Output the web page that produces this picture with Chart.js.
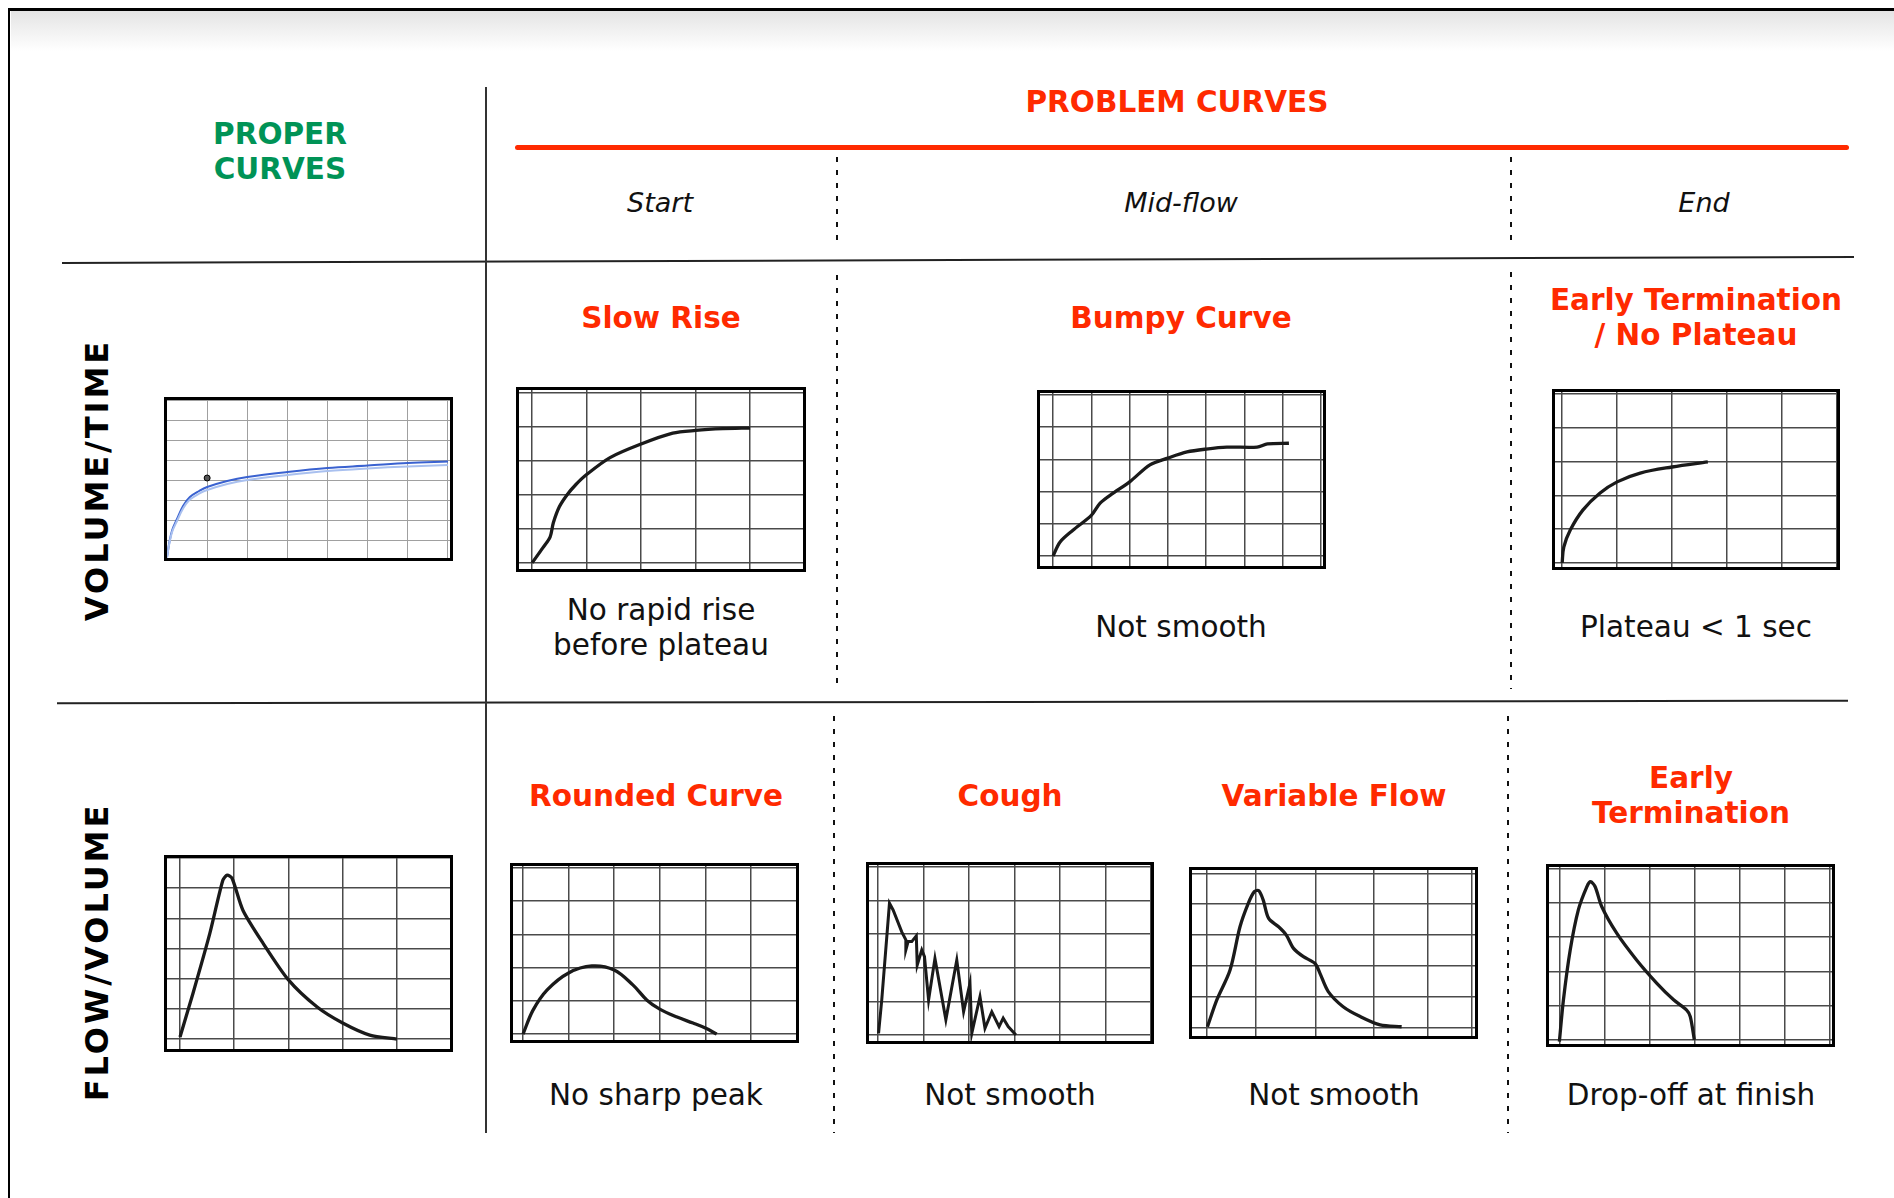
<!DOCTYPE html>
<html>
<head>
<meta charset="utf-8">
<script src="https://cdn.jsdelivr.net/npm/chart.js@4.4.1/dist/chart.umd.min.js"></script>
<style>
body { margin: 0; background: #fff; font-family: "DejaVu Sans", Verdana, sans-serif; }
#page { position: relative; width: 1894px; height: 1198px; overflow: hidden; background: #fff; }
.abs { position: absolute; }
.txt { position: absolute; transform: translate(-50%, -50%); white-space: nowrap; line-height: 1; text-align: center; }
.head { font-weight: bold; font-size: 29.5px; }
.red { color: #ff2a00; }
.green { color: #009356; }
.col { font-style: italic; font-size: 27px; color: #111; }
.cap { font-size: 29.5px; color: #111; }
.side { font-weight: bold; font-size: 32px; letter-spacing: 3px; color: #000; transform: translate(-50%, -50%) rotate(-90deg); }
.box { position: absolute; border: 3px solid #000; box-sizing: border-box; background: #fff; }
.box canvas { display: block; }
.dash { position: absolute; width: 2px; background: repeating-linear-gradient(to bottom, #111 0 5px, transparent 5px 13px); }
</style>
</head>
<body>
<div id="page">
  <!-- frame -->
  <div class="abs" style="left:9px;top:8px;width:1885px;height:3px;background:#000"></div>
  <div class="abs" style="left:11px;top:11px;width:1883px;height:40px;background:linear-gradient(#e4e4e4,#fff)"></div>
  <div class="abs" style="left:8px;top:8px;width:2px;height:1190px;background:#000"></div>

  <!-- table lines -->
  <div class="abs" style="left:515px;top:145px;width:1334px;height:5px;background:#ff2a00;border-radius:3px"></div>
  <div class="abs" style="left:62px;top:259px;width:1792px;height:2px;background:#222;transform:rotate(-0.19deg)"></div>
  <div class="abs" style="left:57px;top:701px;width:1791px;height:2px;background:#222;transform:rotate(-0.08deg)"></div>
  <div class="abs" style="left:485px;top:87px;width:1.5px;height:1046px;background:#333"></div>

  <div class="dash" style="left:836px;top:157px;height:91px"></div>
  <div class="dash" style="left:836px;top:275px;height:414px"></div>
  <div class="dash" style="left:833px;top:716px;height:417px"></div>
  <div class="dash" style="left:1510px;top:157px;height:91px"></div>
  <div class="dash" style="left:1510px;top:272px;height:417px"></div>
  <div class="dash" style="left:1507px;top:716px;height:417px"></div>

  <!-- headings -->
  <div class="txt head green" style="left:280px;top:135px">PROPER</div>
  <div class="txt head green" style="left:280px;top:170px">CURVES</div>
  <div class="txt head red" style="left:1177px;top:103px">PROBLEM CURVES</div>
  <div class="txt col" style="left:660px;top:202px">Start</div>
  <div class="txt col" style="left:1181px;top:202px">Mid-flow</div>
  <div class="txt col" style="left:1704px;top:202px">End</div>
  <div class="txt side" style="left:97px;top:480px">VOLUME/TIME</div>
  <div class="txt side" style="left:97px;top:952px">FLOW/VOLUME</div>

  <!-- titles -->
  <div class="txt head red" style="left:661px;top:319px">Slow Rise</div>
  <div class="txt head red" style="left:1181px;top:319px">Bumpy Curve</div>
  <div class="txt head red" style="left:1696px;top:301px">Early Termination</div>
  <div class="txt head red" style="left:1696px;top:336px">/ No Plateau</div>
  <div class="txt head red" style="left:656px;top:797px">Rounded Curve</div>
  <div class="txt head red" style="left:1010px;top:797px">Cough</div>
  <div class="txt head red" style="left:1334px;top:797px">Variable Flow</div>
  <div class="txt head red" style="left:1691px;top:779px">Early</div>
  <div class="txt head red" style="left:1691px;top:814px">Termination</div>

  <!-- captions -->
  <div class="txt cap" style="left:661px;top:611px">No rapid rise</div>
  <div class="txt cap" style="left:661px;top:646px">before plateau</div>
  <div class="txt cap" style="left:1181px;top:628px">Not smooth</div>
  <div class="txt cap" style="left:1696px;top:628px">Plateau &lt; 1 sec</div>
  <div class="txt cap" style="left:656px;top:1096px">No sharp peak</div>
  <div class="txt cap" style="left:1010px;top:1096px">Not smooth</div>
  <div class="txt cap" style="left:1334px;top:1096px">Not smooth</div>
  <div class="txt cap" style="left:1691px;top:1096px">Drop-off at finish</div>
</div>

<script>
// curve data, in grid cells (x) and grid rows (y)
var properVtX = [0, 0.06, 0.13, 0.25, 0.4, 0.57, 0.8, 1, 1.5, 2, 3, 4, 5, 6, 7];
var properVtY = [0.15, 0.9, 1.5, 2.05, 2.7, 3.15, 3.45, 3.65, 3.95, 4.15, 4.4, 4.6, 4.72, 4.85, 4.92];
var properVtLightY = [0.12, 0.85, 1.42, 1.95, 2.58, 3.02, 3.32, 3.5, 3.8, 4.0, 4.25, 4.45, 4.58, 4.68, 4.75];
var properVtDot = [1, 4.1];

var slowRiseX = [0, 0.2, 0.33, 0.39, 0.5, 0.64, 0.8, 1, 1.43, 2, 2.58, 3, 3.5, 4];
var slowRiseY = [0, 0.45, 0.76, 1.18, 1.65, 2.0, 2.3, 2.6, 3.1, 3.5, 3.82, 3.9, 3.95, 3.97];

var bumpyX = [0, 0.18, 0.52, 1, 1.23, 1.57, 2, 2.53, 3, 3.5, 4, 4.54, 5.33, 5.6, 6.16];
var bumpyY = [0, 0.43, 0.8, 1.26, 1.64, 1.95, 2.3, 2.83, 3.04, 3.23, 3.32, 3.38, 3.38, 3.48, 3.5];

var earlyVtX = [0, 0.03, 0.15, 0.38, 0.69, 1, 1.42, 2, 2.65];
var earlyVtY = [0, 0.47, 0.98, 1.57, 2.07, 2.4, 2.66, 2.84, 2.99];

var properFvX = [0, 0.24, 0.55, 0.79, 0.87, 0.96, 1.16, 1.53, 2, 2.53, 3, 3.5, 4];
var properFvY = [0.07, 1.52, 3.5, 5.26, 5.43, 5.33, 4.27, 3.18, 1.96, 1.06, 0.53, 0.13, 0];

var roundedX = [0, 0.22, 0.53, 1, 1.51, 2, 2.41, 2.72, 3, 3.38, 3.73, 4, 4.25];
var roundedY = [0, 0.72, 1.33, 1.84, 2.05, 1.93, 1.48, 1.02, 0.75, 0.51, 0.33, 0.18, 0];

var coughX = [0.01, 0.08, 0.25, 0.33, 0.52, 0.61, 0.61, 0.66, 0.74, 0.84, 0.86, 0.96, 1.02, 1.11, 1.25, 1.49, 1.73, 1.88, 2.02, 2.06, 2.24, 2.35, 2.5, 2.66, 2.75, 2.86, 3.03];
var coughY = [0.05, 1.04, 3.92, 3.72, 3.07, 2.83, 2.53, 2.78, 2.78, 2.95, 2.08, 2.53, 2.33, 1.04, 2.28, 0.45, 2.23, 0.69, 1.54, 0.05, 1.14, 0.2, 0.69, 0.25, 0.5, 0.25, 0];

var variableX = [0.01, 0.18, 0.42, 0.6, 0.75, 0.86, 0.94, 1.02, 1.12, 1.3, 1.44, 1.57, 1.75, 1.96, 2.05, 2.2, 2.47, 2.78, 3.14, 3.53];
var variableY = [0.03, 0.9, 1.87, 3.27, 4.03, 4.41, 4.44, 4.14, 3.54, 3.27, 3.0, 2.57, 2.3, 2.08, 1.76, 1.17, 0.68, 0.36, 0.09, 0.03];

var earlyFvX = [0, 0.09, 0.24, 0.42, 0.61, 0.69, 0.79, 0.94, 1.27, 1.71, 2.16, 2.53, 2.82, 2.9, 2.99];
var earlyFvY = [-0.05, 1.17, 2.62, 3.79, 4.47, 4.61, 4.47, 3.88, 3.11, 2.33, 1.65, 1.17, 0.87, 0.68, 0];

// grid lines of each little chart
var properVtGridX = [1, 2, 3, 4, 5, 6, 7];
var properVtGridY = [1, 2, 3, 4, 5, 6, 7, 8];
var grid5 = [0, 1, 2, 3, 4, 5];
var grid6 = [0, 1, 2, 3, 4, 5, 6];
var grid7 = [0, 1, 2, 3, 4, 5, 6, 7];
var variableGridX = [0, 0.89, 1.97, 3.03, 4, 4.8];

function points(xs, ys) {
    return xs.map(function(x, i) { return { x: x, y: ys[i] }; });
}

function axis(min, max, grid, color, width) {
    return {
        type: 'linear',
        min: min,
        max: max,
        ticks: { display: false },
        grid: { color: color, lineWidth: width, drawTicks: false },
        border: { display: false },
        afterBuildTicks: function(scale) {
            scale.ticks = grid.map(function(v) { return { value: v }; });
        }
    };
}

function curve(data, color, width, tension) {
    return {
        data: data,
        borderColor: color,
        borderWidth: width,
        pointRadius: 0,
        pointHoverRadius: 0,
        tension: tension,
        fill: false
    };
}

// box position on the page, axis ranges, grid and curves
var charts = [
    { box: [164, 397, 289, 164], x: [0, 7.05, properVtGridX], y: [0.1, 8, properVtGridY], gridColor: '#a0a0a0', gridWidth: 1,
      datasets: [
          curve(points(properVtX, properVtLightY), '#a9c0ef', 2, 0.35),
          curve(points(properVtX, properVtY), '#3a62d0', 2, 0.35),
          { data: [{ x: properVtDot[0], y: properVtDot[1] }], showLine: false, pointRadius: 3, pointHoverRadius: 0,
            pointBackgroundColor: '#555', pointBorderColor: '#000', pointBorderWidth: 1 }
      ] },
    { box: [516, 387, 290, 185], x: [-0.24, 4.97, grid5], y: [-0.18, 5.09, grid5],
      datasets: [curve(points(slowRiseX, slowRiseY), '#1a1a1a', 3.3, 0.3)] },
    { box: [1037, 390, 289, 179], x: [-0.34, 7.05, grid7], y: [-0.31, 5.06, grid5],
      datasets: [curve(points(bumpyX, bumpyY), '#1a1a1a', 3.3, 0.3)] },
    { box: [1552, 389, 288, 181], x: [-0.13, 5.0, grid5], y: [-0.12, 5.06, grid5],
      datasets: [curve(points(earlyVtX, earlyVtY), '#1a1a1a', 3.3, 0.35)] },
    { box: [164, 855, 289, 197], x: [-0.24, 4.98, grid5], y: [-0.33, 6.0, grid6],
      datasets: [curve(points(properFvX, properFvY), '#1a1a1a', 3.3, 0.25)] },
    { box: [510, 863, 289, 180], x: [-0.22, 5.99, grid6], y: [-0.18, 5.06, grid5],
      datasets: [curve(points(roundedX, roundedY), '#1a1a1a', 3.3, 0.35)] },
    { box: [866, 862, 288, 182], x: [-0.2, 6.0, grid6], y: [-0.18, 5.06, grid5],
      datasets: [curve(points(coughX, coughY), '#1a1a1a', 3, 0)] },
    { box: [1189, 867, 289, 172], x: [-0.27, 4.86, variableGridX], y: [-0.27, 5.11, grid5],
      datasets: [curve(points(variableX, variableY), '#1a1a1a', 3.3, 0.3)] },
    { box: [1546, 864, 289, 183], x: [-0.23, 6.04, grid6], y: [-0.12, 5.04, grid5],
      datasets: [curve(points(earlyFvX, earlyFvY), '#1a1a1a', 3.3, 0.3)] }
];

var page = document.getElementById('page');

charts.forEach(function(c) {
    var box = document.createElement('div');
    box.className = 'box';
    box.style.left = c.box[0] + 'px';
    box.style.top = c.box[1] + 'px';
    box.style.width = c.box[2] + 'px';
    box.style.height = c.box[3] + 'px';
    var canvas = document.createElement('canvas');
    canvas.width = c.box[2] - 6;
    canvas.height = c.box[3] - 6;
    box.appendChild(canvas);
    page.appendChild(box);

    var gridColor = c.gridColor || '#4a4a4a';
    var gridWidth = c.gridWidth || 1.5;

    new Chart(canvas.getContext('2d'), {
        type: 'line',
        data: { datasets: c.datasets },
        options: {
            responsive: false,
            animation: false,
            devicePixelRatio: 1,
            layout: { padding: 0, autoPadding: false },
            plugins: { legend: { display: false }, tooltip: { enabled: false } },
            scales: {
                x: axis(c.x[0], c.x[1], c.x[2], gridColor, gridWidth),
                y: axis(c.y[0], c.y[1], c.y[2], gridColor, gridWidth)
            }
        }
    });
});
</script>
</body>
</html>
